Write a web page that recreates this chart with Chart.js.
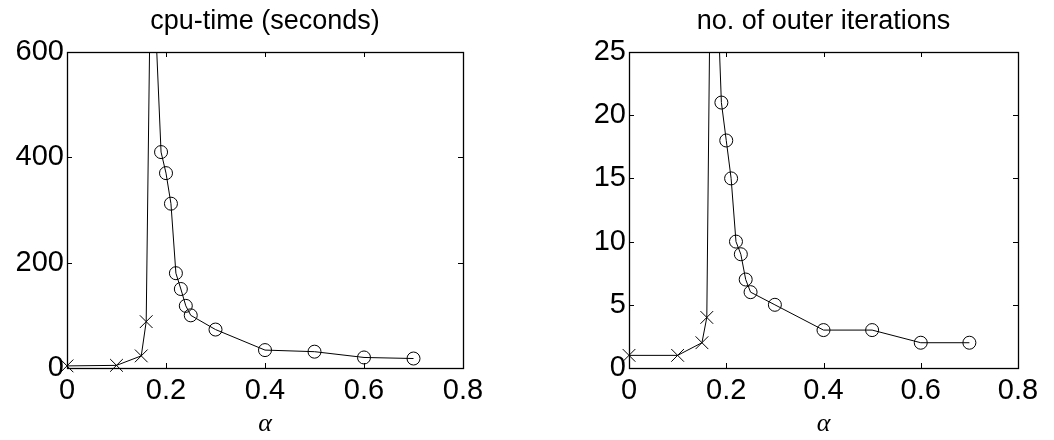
<!DOCTYPE html>
<html>
<head>
<meta charset="utf-8">
<script src="https://cdn.jsdelivr.net/npm/chart.js@4/dist/chart.umd.min.js"></script>
<style>
  html, body { margin: 0; padding: 0; background: #fff; }
  #wrap { position: relative; width: 1054px; height: 440px; }
  .panel { position: absolute; top: 0; width: 527px; height: 440px; }
</style>
</head>
<body>
<div id="wrap">
  <div class="panel" style="left:0"><canvas id="cpu-chart"></canvas></div>
  <div class="panel" style="left:527px"><canvas id="iter-chart"></canvas></div>
</div>
<script>
// alpha values (shared by both panels)
const alpha = [0, 0.1, 0.15, 0.16, 0.17, 0.19, 0.2, 0.21, 0.22, 0.23, 0.24, 0.25, 0.3, 0.4, 0.5, 0.6, 0.7];
// cpu-time in seconds (the 0.17 point is off the top of the axes)
const cpuTime = [4, 5, 23, 88, 850, 410, 370, 312, 180, 150, 118, 100, 73, 34, 31, 20, 18];
// number of outer iterations
const outerIters = [1, 1, 2, 4, 42, 21, 18, 15, 10, 9, 7, 6, 5, 3, 3, 2, 2];
// marker per point: x = cross, o = circle
const markers = ["x", "x", "x", "x", "x", "o", "o", "o", "o", "o", "o", "o", "o", "o", "o", "o", "o"];

const xTicks = [0, 0.2, 0.4, 0.6, 0.8];
const cpuTicks = [0, 200, 400, 600];
const iterTicks = [0, 5, 10, 15, 20, 25];

const FONT = "'Liberation Sans', Arial, Helvetica, sans-serif";

// box round the axes with little inward ticks on all four sides (matlab style)
const framePlugin = {
  id: "frame",
  afterDatasetsDraw(chart) {
    const { ctx, chartArea: a, scales } = chart;
    const len = 5;
    ctx.save();
    ctx.strokeStyle = "#000";
    ctx.lineWidth = 1;
    ctx.beginPath();
    scales.x.ticks.forEach((t) => {
      const px = Math.round(scales.x.getPixelForValue(t.value)) + 0.5;
      if (px <= a.left + 1 || px >= a.right - 1) return;
      ctx.moveTo(px, a.bottom);
      ctx.lineTo(px, a.bottom - len);
      ctx.moveTo(px, a.top);
      ctx.lineTo(px, a.top + len);
    });
    scales.y.ticks.forEach((t) => {
      const py = Math.round(scales.y.getPixelForValue(t.value)) + 0.5;
      if (py <= a.top + 1 || py >= a.bottom - 1) return;
      ctx.moveTo(a.left, py);
      ctx.lineTo(a.left + len, py);
      ctx.moveTo(a.right, py);
      ctx.lineTo(a.right - len, py);
    });
    ctx.stroke();
    ctx.lineWidth = 1.3;
    ctx.strokeRect(Math.round(a.left) + 0.5, Math.round(a.top) + 0.5,
      Math.round(a.right - a.left), Math.round(a.bottom - a.top));
    ctx.restore();
  },
};

const makeChart = (canvas, title, values, yMax, yTicks, yWidth, rightPad) => {
  const points = alpha.map((a, i) => ({ x: a, y: values[i] }));
  return new Chart(canvas, {
    type: "line",
    data: {
      datasets: [
        {
          data: points,
          borderColor: "#000",
          borderWidth: 1,
          tension: 0,
          pointStyle: markers.map((m) => (m === "x" ? "crossRot" : "circle")),
          pointRadius: markers.map((m) => (m === "x" ? 9 : 6.5)),
          pointBorderColor: "#000",
          pointBorderWidth: 1,
          pointBackgroundColor: "rgba(0,0,0,0)",
          clip: { left: 12, right: 12, top: 0, bottom: 12 },
        },
      ],
    },
    options: {
      responsive: false,
      animation: false,
      events: [],
      layout: { padding: { left: 0, right: rightPad, top: 0, bottom: 0 } },
      plugins: {
        legend: { display: false },
        tooltip: { enabled: false },
        title: {
          display: true,
          text: title,
          fullSize: false,
          color: "#000",
          font: { family: FONT, size: 27, weight: "normal", lineHeight: 1.2 },
          padding: { top: 5.3, bottom: 14.3 },
        },
      },
      scales: {
        x: {
          type: "linear",
          min: 0,
          max: 0.8,
          grid: { display: false, drawTicks: false },
          border: { display: false },
          afterBuildTicks: (s) => { s.ticks = xTicks.map((v) => ({ value: v })); },
          afterFit: (s) => { s.height = 72; },
          ticks: {
            color: "#000",
            padding: 6,
            maxRotation: 0,
            font: { family: FONT, size: 29 },
            callback: (v) => String(v),
          },
          title: {
            display: true,
            text: "α",
            color: "#000",
            font: { family: "'Liberation Serif', 'DejaVu Serif', serif", size: 26, style: "italic" },
            padding: { top: 0, bottom: 0 },
          },
        },
        y: {
          type: "linear",
          min: 0,
          max: yMax,
          grid: { display: false, drawTicks: false },
          border: { display: false },
          afterBuildTicks: (s) => { s.ticks = yTicks.map((v) => ({ value: v })); },
          afterFit: (s) => { s.width = yWidth; },
          ticks: {
            color: "#000",
            padding: 3,
            font: { family: FONT, size: 29 },
          },
        },
      },
    },
    plugins: [framePlugin],
  });
};

document.addEventListener("DOMContentLoaded", () => {
  const c1 = document.getElementById("cpu-chart");
  const c2 = document.getElementById("iter-chart");
  c1.width = 527; c1.height = 440;
  c2.width = 527; c2.height = 440;
  makeChart(c1, "cpu-time (seconds)", cpuTime, 600, cpuTicks, 67, 64);
  makeChart(c2, "no. of outer iterations", outerIters, 25, iterTicks, 102, 36);
});
</script>
</body>
</html>
